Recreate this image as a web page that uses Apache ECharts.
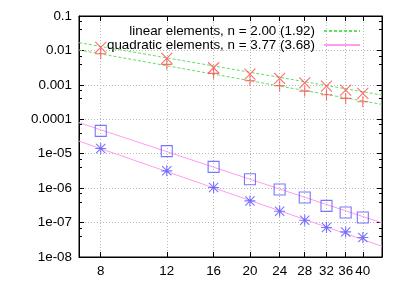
<!DOCTYPE html>
<html><head><meta charset="utf-8">
<script src="https://cdn.jsdelivr.net/npm/echarts@6/dist/echarts.min.js"></script>
<style>html,body{margin:0;padding:0;background:#fff}#c{width:405px;height:284px}</style>
</head><body><div id="c"></div>
<script>
const xTicks = [8, 12, 16, 20, 24, 28, 32, 36, 40];
const yTickLabels = ['1e-08','1e-07','1e-06','1e-05','0.0001','0.001','0.01','0.1'];
const nValues = [8, 12, 16, 20, 24, 28, 32, 36, 40];
const linErrX = [0.0123, 0.00589, 0.00314, 0.00206, 0.00154, 0.00115, 0.000922, 0.000705, 0.000565];
const linErrPlus = [0.00802, 0.00394, 0.00216, 0.00131, 0.000940, 0.000659, 0.000514, 0.000404, 0.000322];
const quadErrSquare = [4.62e-5, 1.19e-5, 4.15e-6, 1.82e-6, 9.14e-7, 5.35e-7, 3.05e-7, 1.96e-7, 1.40e-7];
const quadErrStar = [1.42e-5, 3.18e-6, 1.04e-6, 4.26e-7, 2.14e-7, 1.17e-7, 7.18e-8, 5.35e-8, 3.67e-8];
const fitX = [7, 45];
const linFitUpper = [0.0168, 0.000505];
const linFitLower = [0.0103, 0.00027];
const quadFitUpper = [8.0e-5, 9.8e-8];
const quadFitLower = [2.32e-5, 2.05e-8];
const legendNames = ['linear elements, n = 2.00 (1.92)', 'quadratic elements, n = 3.77 (3.68)'];

const pair = (xs, ys) => xs.map((x, i) => [x, ys[i]]);
const FONT = 'Liberation Sans';
const green = '#5fe05f', pink = '#ff9cf2', red = '#ff4848', blue = '#5555ff';

function markers(name, data, path, color, size) {
  return { name, type: 'scatter', data, symbol: path, symbolSize: size,
    itemStyle: { color: 'none', borderColor: color, borderWidth: 1.1 }, z: 5, silent: true };
}
function fit(name, data, color, dashed) {
  return { name, type: 'line', data, symbol: 'none', silent: true, z: 3,
    lineStyle: { color, width: 1, type: dashed ? [3, 2] : 'solid' }, itemStyle: { color } };
}
const yAxisBase = (pos, labels) => ({
  type: 'log', logBase: 10, min: 1e-8, max: 0.1, interval: 1, position: pos,
  axisLine: { show: true, lineStyle: { color: '#000' } },
  axisTick: { show: true, inside: true, length: 5, lineStyle: { color: '#000' } },
  minorTick: { show: true, splitNumber: 3, length: 3, lineStyle: { color: '#000' } },
  axisLabel: { show: labels, color: '#000', fontFamily: FONT, fontSize: 13.4, margin: 7,
    formatter: v => yTickLabels[Math.round(Math.log10(v)) + 8] },
  splitLine: { show: labels, lineStyle: { color: '#b8b8b8', type: [1, 2] } }
});
const xAxisBase = (pos, labels) => ({
  type: 'log', logBase: 10, min: 7, max: 45, position: pos,
  axisLine: { show: true, lineStyle: { color: '#000' } },
  axisTick: { show: true, inside: true, length: 5, customValues: xTicks, lineStyle: { color: '#000' } },
  axisLabel: { show: labels, customValues: xTicks, color: '#000', fontFamily: FONT, fontSize: 13.4, margin: 8,
    formatter: v => String(Math.round(v)) },
  splitLine: { show: labels, lineStyle: { color: '#b8b8b8', type: [1, 2] } }
});

const chart = echarts.init(document.getElementById('c'), null, { renderer: 'canvas' });
chart.setOption({
  animation: false,
  backgroundColor: '#fff',
  grid: { left: 79, right: 23, top: 16, bottom: 27, show: true, borderColor: '#000', borderWidth: 1 },
  legend: {
    data: legendNames, orient: 'vertical', right: 39, top: 19, align: 'right',
    itemWidth: 36, itemHeight: 8, itemGap: 0, selectedMode: false,
    itemStyle: { color: 'transparent', borderWidth: 0, opacity: 0 },
    textStyle: { fontFamily: FONT, fontSize: 13.4, color: '#000', lineHeight: 14, padding: [0, 4, 0, 0] }
  },
  xAxis: [xAxisBase('bottom', true), xAxisBase('top', false)],
  yAxis: [yAxisBase('left', true), yAxisBase('right', false)],
  series: [
    fit(legendNames[0], pair(fitX, linFitLower), green, true),
    fit('lin upper', pair(fitX, linFitUpper), green, true),
    fit(legendNames[1], pair(fitX, quadFitUpper), pink, false),
    fit('quad lower', pair(fitX, quadFitLower), pink, false),
    markers('x', pair(nValues, linErrX), 'path://M0,0L10,10M10,0L0,10', red, 11),
    markers('+', pair(nValues, linErrPlus), 'path://M5,0L5,10M0,5L10,5', red, 11),
    markers('sq', pair(nValues, quadErrSquare), 'path://M0,0L10,0L10,10L0,10Z', blue, 11),
    markers('star', pair(nValues, quadErrStar), 'path://M5,0L5,10M0,5L10,5M0.8,0.8L9.2,9.2M9.2,0.8L0.8,9.2', blue, 11)
  ]
});
</script></body></html>
